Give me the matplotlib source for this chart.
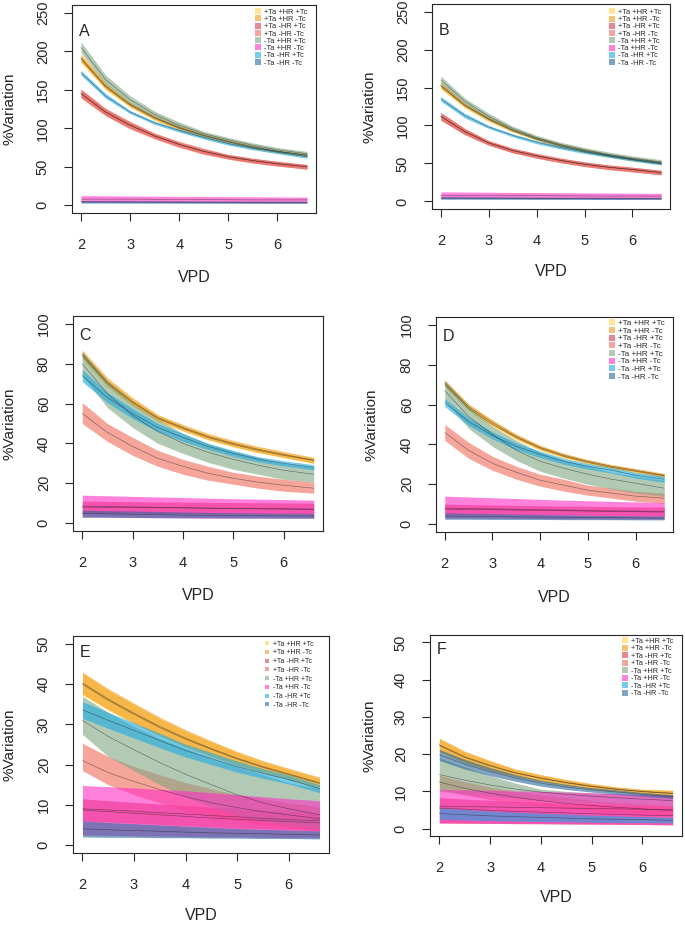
import matplotlib.pyplot as plt
from matplotlib.lines import Line2D

plt.rcParams['font.family'] = ['Liberation Sans', 'DejaVu Sans']

vpd = [2.0, 2.5, 3.0, 3.5, 4.0, 4.5, 5.0, 5.5, 6.0, 6.6]

labels = ['+Ta +HR +Tc', '+Ta +HR -Tc', '+Ta -HR +Tc', '+Ta -HR -Tc',
          '-Ta +HR +Tc', '-Ta +HR -Tc', '-Ta -HR +Tc', '-Ta -HR -Tc']
colors = ['#FFD24A', '#F29A18', '#D83848', '#F06A58',
          '#7FA682', '#FF2EC4', '#1AAAE4', '#27689A']

# ---- panel A
a_mid = [[190, 154, 130, 113, 100, 90, 82, 75, 70, 65],
         [191, 155, 131, 114, 101, 91, 83, 76, 70, 65],
         [145, 121, 104, 90, 79, 70, 63, 58, 54, 50],
         [145, 121, 104, 90, 79, 70, 63, 58, 54, 50],
         [205, 163, 137, 118, 104, 93, 85, 78, 72, 67],
         [8, 8, 8, 7.8, 7.6, 7.4, 7.2, 7, 7, 7],
         [172, 142, 121, 107, 97, 88, 80, 74, 69, 63],
         [4.5, 4.4, 4.3, 4.2, 4.1, 4, 4, 3.9, 3.9, 3.8]]
a_lo = [[185, 150, 127, 110, 97, 88, 80, 73, 68, 63],
        [186, 151, 128, 111, 98, 89, 81, 74, 68, 63],
        [140, 117, 100, 87, 76, 67, 60, 55, 51, 47],
        [139, 116, 99, 86, 75, 66, 60, 55, 51, 47],
        [198, 157, 132, 114, 100, 90, 82, 75, 69, 64],
        [4, 4, 4, 3.8, 3.6, 3.5, 3.4, 3.3, 3.2, 3.2],
        [169, 139, 119, 105, 95, 86, 78, 72, 67, 61],
        [2.8, 2.8, 2.7, 2.7, 2.6, 2.6, 2.6, 2.5, 2.5, 2.5]]
a_hi = [[195, 158, 133, 116, 103, 92, 84, 77, 72, 67],
        [196, 159, 134, 117, 104, 93, 85, 78, 72, 67],
        [150, 125, 108, 93, 82, 73, 66, 61, 57, 53],
        [151, 126, 109, 94, 83, 74, 66, 61, 57, 53],
        [212, 169, 142, 122, 108, 96, 88, 81, 75, 70],
        [12.5, 12.3, 12, 11.8, 11.6, 11.4, 11.2, 11, 10.8, 10.6],
        [175, 145, 123, 109, 99, 90, 82, 76, 71, 65],
        [6.2, 6.1, 6, 5.9, 5.8, 5.6, 5.5, 5.4, 5.3, 5.2]]

# ---- panel B
b_mid = [[152, 126, 108, 93, 82, 73, 66, 60, 55, 50],
         [153, 127, 109, 94, 83, 74, 67, 61, 56, 51],
         [112, 92, 77, 67, 60, 54, 49, 45, 42, 38],
         [112, 92, 77, 67, 60, 54, 49, 45, 42, 38],
         [160, 132, 112, 96, 84, 75, 68, 62, 57, 52],
         [8, 8, 7.9, 7.8, 7.6, 7.4, 7.2, 7, 7, 7],
         [135, 113, 98, 87, 78, 71, 65, 60, 55, 50],
         [4.5, 4.4, 4.3, 4.2, 4.1, 4, 4, 3.9, 3.9, 3.8]]
b_lo = [[148, 123, 105, 91, 80, 71, 64, 58, 53, 48],
        [149, 124, 106, 92, 81, 72, 65, 59, 54, 49],
        [107, 88, 74, 64, 57, 51, 46, 42, 39, 35],
        [107, 88, 74, 64, 57, 51, 46, 42, 39, 35],
        [155, 128, 108, 93, 81, 72, 65, 59, 54, 49],
        [4, 4, 4, 3.8, 3.6, 3.5, 3.4, 3.3, 3.2, 3.2],
        [132, 110, 96, 85, 76, 69, 63, 58, 53, 48],
        [2.8, 2.8, 2.7, 2.7, 2.6, 2.6, 2.6, 2.5, 2.5, 2.5]]
b_hi = [[156, 129, 111, 95, 84, 75, 68, 62, 57, 52],
        [157, 130, 112, 96, 85, 76, 69, 63, 58, 53],
        [117, 96, 80, 70, 63, 57, 52, 48, 45, 41],
        [117, 96, 80, 70, 63, 57, 52, 48, 45, 41],
        [165, 136, 116, 99, 87, 78, 71, 65, 60, 55],
        [12.5, 12.3, 12, 11.8, 11.6, 11.4, 11.2, 11, 10.8, 10.6],
        [138, 116, 100, 89, 80, 73, 67, 62, 57, 52],
        [6.2, 6.1, 6, 5.9, 5.8, 5.6, 5.5, 5.4, 5.3, 5.2]]

# ---- panel C
c_mid = [[84, 70, 60.5, 52.5, 47.5, 43, 39.5, 36.5, 34, 31.5],
         [85, 71, 61, 53, 48, 43.5, 40, 37, 34.5, 31.5],
         [8, 7.9, 7.8, 7.7, 7.6, 7.5, 7.4, 7.3, 7.2, 7],
         [55, 45.5, 38.5, 32.5, 28.5, 25, 22.5, 20.5, 19, 17.5],
         [80, 65, 54, 46, 40, 35.5, 32, 29, 26.5, 24.5],
         [8.5, 8.3, 8.1, 7.9, 7.7, 7.5, 7.3, 7.1, 7, 6.8],
         [74, 63, 55, 48, 43, 38.5, 35, 32, 30, 28],
         [4.8, 4.6, 4.4, 4.2, 4, 3.9, 3.8, 3.7, 3.6, 3.5]]
c_lo = [[82, 68.2, 58.9, 51, 46.1, 41.7, 38.2, 35.2, 32.8, 30.2],
        [83, 69, 59, 51.5, 46.5, 42, 38.5, 35.5, 33, 30],
        [5, 4.9, 4.9, 4.8, 4.8, 4.7, 4.7, 4.6, 4.6, 4.5],
        [50, 41, 34, 28.5, 24.5, 21.5, 19.5, 17.5, 16, 15],
        [74, 58, 48, 40, 35, 30.5, 27, 24.5, 22, 20.5],
        [3, 3, 2.8, 2.7, 2.6, 2.5, 2.5, 2.5, 2.5, 2.5],
        [71, 60.5, 52.5, 46, 41, 37, 33.5, 30.7, 28.7, 26.7],
        [3, 2.9, 2.8, 2.7, 2.6, 2.6, 2.5, 2.5, 2.4, 2.4]]
c_hi = [[86, 71.8, 62.1, 54, 48.9, 44.3, 40.8, 37.8, 35.2, 32.8],
        [87, 73, 63, 54.5, 49.5, 45, 41.5, 38.5, 36, 33],
        [11, 10.9, 10.7, 10.6, 10.5, 10.4, 10.3, 10.2, 10.1, 10],
        [60.5, 50, 43, 36.5, 32, 28.5, 25.5, 23.5, 22, 20.5],
        [86, 71, 60, 52, 45, 40, 36, 33, 30, 28],
        [14, 13.7, 13.4, 13.1, 12.8, 12.5, 12.2, 12, 11.8, 11.5],
        [77, 65.5, 57.5, 50, 45, 40, 36.5, 33.3, 31.3, 29.3],
        [6.5, 6.2, 6, 5.8, 5.5, 5.3, 5.2, 5, 4.9, 4.8]]

# ---- panel D
d_mid = [[70, 58, 50, 43.5, 38, 34, 31, 28.5, 26.5, 24.2],
         [71, 59, 51, 44, 38.5, 34.5, 31.5, 29, 27, 24.5],
         [7.5, 7.3, 7.2, 7, 6.8, 6.7, 6.5, 6.3, 6.2, 6],
         [46, 37, 30.5, 26, 22, 19.5, 17, 15.5, 14, 13],
         [67, 54, 45, 37, 31.5, 28, 25, 22.5, 20.5, 18],
         [8, 7.8, 7.6, 7.4, 7.2, 7, 6.8, 6.6, 6.5, 6.3],
         [61, 51.5, 44.5, 39, 35, 31.5, 29, 27, 24.5, 22.5],
         [4, 3.9, 3.8, 3.6, 3.5, 3.4, 3.3, 3.2, 3.1, 3]]
d_lo = [[68.5, 56.6, 48.7, 42.3, 36.9, 33, 30.1, 27.6, 25.6, 23.3],
        [69.5, 57.6, 49.7, 42.8, 37.4, 33.5, 30.6, 28.1, 26.1, 23.5],
        [5, 4.9, 4.8, 4.7, 4.6, 4.5, 4.4, 4.2, 4.1, 4],
        [42, 33, 27, 22.5, 19, 16.5, 14.5, 13, 11.5, 10.5],
        [62, 48, 39, 32, 26.5, 23, 20, 17.5, 15.5, 14],
        [3, 3, 2.9, 2.8, 2.7, 2.6, 2.6, 2.5, 2.5, 2.5],
        [59, 49.6, 42.7, 37.3, 33.4, 30, 27.6, 25.6, 23.1, 21],
        [2.4, 2.4, 2.3, 2.3, 2.3, 2.2, 2.2, 2.2, 2.1, 2.1]]
d_hi = [[71.5, 59.4, 51.3, 44.7, 39.1, 35, 31.9, 29.4, 27.4, 25.1],
        [72.5, 60.4, 52.3, 45.2, 39.6, 35.5, 32.4, 29.9, 27.9, 25.5],
        [10, 9.8, 9.6, 9.4, 9.2, 9, 8.9, 8.7, 8.6, 8.5],
        [50, 41, 34, 29, 25, 22.5, 19.5, 18, 16.5, 15.5],
        [72, 59, 49, 42, 36, 32, 29, 26, 24, 22],
        [14, 13.6, 13.2, 12.8, 12.4, 12, 11.7, 11.4, 11.1, 10.8],
        [63, 53.4, 46.3, 40.7, 36.6, 33, 30.4, 28.4, 25.9, 24],
        [5.6, 5.4, 5.2, 5, 4.8, 4.6, 4.4, 4.3, 4.1, 4]]

# ---- panel E
e_mid = [[40, 36, 32.5, 29.2, 26.3, 23.8, 21.4, 19.3, 17.5, 15.3],
         [40.3, 36.3, 32.8, 29.5, 26.6, 24, 21.6, 19.5, 17.7, 15.5],
         [8.7, 8.3, 7.9, 7.5, 7.1, 6.7, 6.4, 6.1, 5.8, 5.5],
         [21, 18, 15.8, 13.8, 12, 10.5, 9.3, 8.3, 7.5, 6.5],
         [31, 27, 23.7, 20.5, 17.6, 15, 12.5, 10.5, 9, 7.5],
         [9, 8.7, 8.4, 8, 7.7, 7.3, 7, 6.6, 6.3, 6],
         [33.6, 31, 28.5, 26, 23.5, 21.5, 19.5, 17.8, 16.3, 14],
         [4, 3.8, 3.6, 3.4, 3.2, 3, 2.9, 2.8, 2.6, 2.5]]
e_lo = [[37.3, 33.5, 30.1, 27, 24.3, 21.9, 19.8, 17.9, 16.2, 14],
        [37.5, 33.7, 30.3, 27.2, 24.5, 22.1, 19.9, 18, 16.3, 14.1],
        [6, 5.7, 5.4, 5.1, 4.8, 4.5, 4.2, 4, 3.8, 3.5],
        [18.5, 15, 12.5, 10.5, 8.5, 7, 6, 5, 4.3, 3.5],
        [27.5, 22, 18.5, 15, 12, 9.5, 7.5, 6, 5, 4],
        [2.5, 2.4, 2.3, 2.2, 2.1, 2, 2, 1.9, 1.8, 1.8],
        [31.5, 29, 26.6, 24.2, 21.9, 20, 18.1, 16.6, 15.2, 13],
        [2, 1.9, 1.9, 1.8, 1.8, 1.7, 1.7, 1.6, 1.6, 1.5]]
e_hi = [[42.7, 38.5, 34.9, 31.4, 28.3, 25.7, 23, 20.7, 18.8, 16.6],
        [43, 38.9, 35.3, 31.8, 28.7, 25.9, 23.3, 21, 19.1, 16.9],
        [11.5, 11, 10.6, 10.2, 9.8, 9.4, 9, 8.7, 8.4, 8],
        [25.3, 22, 19.5, 17.5, 15.5, 14, 12.5, 11.5, 10.5, 9.5],
        [37, 33, 29.5, 26.5, 24, 21.5, 19.5, 17.5, 15.5, 14],
        [14.8, 14.5, 14.2, 13.8, 13.5, 13, 12.5, 12, 11.5, 11],
        [35.7, 33, 30.4, 27.8, 25.1, 23, 20.9, 19, 17.4, 15],
        [6, 5.6, 5.3, 5, 4.7, 4.4, 4.1, 3.9, 3.7, 3.5]]

# ---- panel F
f_mid = [[22.3, 19.1, 16.8, 14.9, 13.5, 12.3, 11.3, 10.5, 9.9, 9.4],
         [22.5, 19.3, 17, 15, 13.6, 12.4, 11.4, 10.6, 10, 9.5],
         [5.5, 5.2, 4.9, 4.6, 4.4, 4.2, 4, 3.8, 3.6, 3.5],
         [12.5, 10.8, 9.5, 8.4, 7.5, 6.8, 6.2, 5.7, 5.3, 4.8],
         [14.5, 13, 11.7, 10.6, 9.8, 9.2, 8.7, 8.3, 7.9, 7.5],
         [6, 5.9, 5.8, 5.7, 5.6, 5.5, 5.4, 5.3, 5.2, 5.1],
         [4, 3.7, 3.4, 3.2, 3, 2.8, 2.6, 2.5, 2.4, 2.2],
         [19.8, 17.3, 15.3, 13.6, 12.2, 11.2, 10.4, 9.8, 9.2, 8.6]]
f_lo = [[20.5, 17.6, 15.5, 13.9, 12.6, 11.5, 10.6, 9.9, 9.3, 8.6],
        [20.7, 17.8, 15.7, 14, 12.7, 11.6, 10.7, 10, 9.4, 8.7],
        [1.5, 1.4, 1.4, 1.3, 1.3, 1.2, 1.2, 1.1, 1.1, 1],
        [10.5, 9, 7.8, 6.8, 6, 5.3, 4.8, 4.3, 3.9, 3.5],
        [10, 9.3, 8.7, 8.2, 7.7, 7.3, 6.9, 6.6, 6.3, 6],
        [1.5, 1.5, 1.4, 1.4, 1.3, 1.3, 1.2, 1.2, 1.1, 1],
        [2.5, 2.3, 2.1, 2, 1.9, 1.8, 1.7, 1.6, 1.6, 1.5],
        [18.3, 16, 14.2, 12.7, 11.4, 10.5, 9.8, 9.2, 8.7, 8.1]]
f_hi = [[24.1, 20.6, 18.1, 15.9, 14.4, 13.1, 12, 11.1, 10.5, 10.2],
        [24.3, 20.8, 18.3, 16, 14.5, 13.2, 12.1, 11.2, 10.6, 10.3],
        [8.3, 7.9, 7.6, 7.3, 7, 6.8, 6.6, 6.4, 6.2, 6],
        [14.3, 12.6, 11.2, 10, 9, 8.3, 7.6, 7, 6.6, 6.1],
        [19, 16.5, 14.2, 12.2, 10.6, 10, 9.6, 9.3, 9, 8.8],
        [10.5, 10.4, 10.3, 10.1, 10, 9.8, 9.6, 9.4, 9.2, 9],
        [5.5, 5.1, 4.7, 4.4, 4.1, 3.9, 3.6, 3.4, 3.2, 3],
        [21.3, 18.6, 16.4, 14.5, 13, 11.9, 11, 10.4, 9.7, 9.1]]

panels = [
    # letter, mid, lo, hi, yticks, ylim, box px (l, t, r, b), legend, letter y
    ('A', a_mid, a_lo, a_hi, [0, 50, 100, 150, 200, 250], (-10, 260),
     (72, 5, 316, 213), (0.963, 0.983, 5.4, 0.0), 225),
    ('B', b_mid, b_lo, b_hi, [0, 50, 100, 150, 200, 250], (-10, 260),
     (432, 4, 670, 209), (0.963, 0.977, 5.4, 0.0), 225),
    ('C', c_mid, c_lo, c_hi, [0, 20, 40, 60, 80, 100], (-4, 104),
     (73, 316, 323, 531), None, 94),
    ('D', d_mid, d_lo, d_hi, [0, 20, 40, 60, 80, 100], (-4, 104),
     (436, 317, 673, 532), (0.966, 0.988, 5.8, 0.0), 94),
    ('E', e_mid, e_lo, e_hi, [0, 10, 20, 30, 40, 50], (-2, 52),
     (73, 636, 329, 853), (0.938, 0.979, 5.0, 0.25), 48),
    ('F', f_mid, f_lo, f_hi, [0, 10, 20, 30, 40, 50], (-2, 52),
     (430, 635, 682, 836), (0.964, 0.987, 5.3, 0.05), 48),
]
ylab_x = [10, 370, 10, 372, 10, 370]
vpd_y = [277, 272, 595, 597, 915, 897]

W, H = 685, 926
fig = plt.figure(figsize=(W / 100, H / 100), dpi=100)
ink = '#262626'

for i, (let, mid, lo, hi, yt, ylim, box, leg, lety) in enumerate(panels):
    l, t, r, b = box
    ax = fig.add_axes([l / W, 1 - b / H, (r - l) / W, (b - t) / H])
    for k in range(8):
        ax.fill_between(vpd, lo[k], hi[k], color=colors[k], alpha=0.6,
                        linewidth=0)
    for k in range(8):
        ax.plot(vpd, mid[k], color='#202020', lw=0.45, alpha=0.55)
    ax.set_xlim(1.816, 6.784)
    ax.set_ylim(*ylim)
    ax.set_xticks([2, 3, 4, 5, 6])
    ax.set_yticks(yt)
    ax.set_yticklabels([str(v) for v in yt], rotation=90, va='center')
    ax.tick_params(direction='out', length=6, width=0.8, colors=ink,
                   labelsize=10.5)
    ax.tick_params(axis='x', pad=12)
    ax.tick_params(axis='y', pad=10)
    for s in ax.spines.values():
        s.set_linewidth(0.8)
        s.set_color(ink)
    ax.text(1.95, lety, let, fontsize=11.5, color=ink, ha='left',
            va='center')
    if leg is not None:
        lx, ly, fs, sp = leg
        handles = [Line2D([], [], marker='s', linestyle='none',
                          markersize=fs * 0.7, color=colors[k], alpha=0.6,
                          markeredgewidth=0) for k in range(8)]
        ax.legend(handles, labels, loc='upper right',
                  bbox_to_anchor=(lx, ly), frameon=False, fontsize=fs,
                  handlelength=0.8, handletextpad=0.4, labelspacing=sp,
                  borderpad=0, borderaxespad=0, labelcolor=ink)
    fig.text(ylab_x[i] / W, 1 - (t + b) / 2 / H, '%Variation', rotation=90,
             ha='center', va='center', fontsize=11, color=ink)
    fig.text((l + r) / 2 / W, 1 - vpd_y[i] / H, 'VPD', ha='center',
             va='center', fontsize=11.5, color=ink)

fig.savefig('out.png', dpi=100)
